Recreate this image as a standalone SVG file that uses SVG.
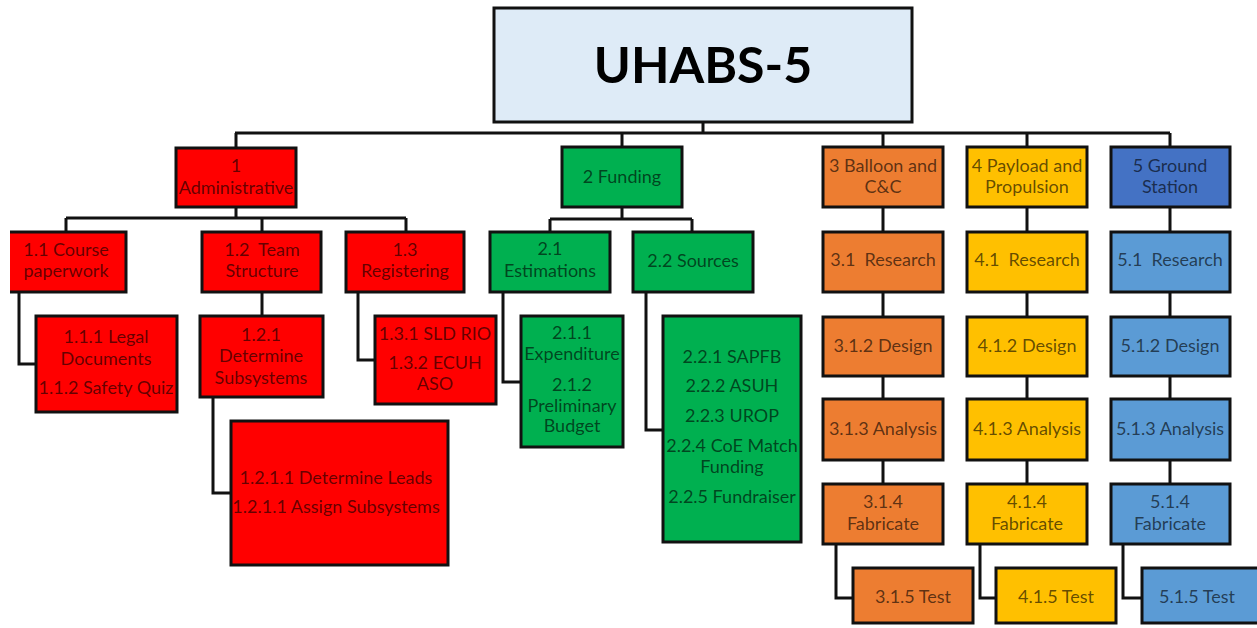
<svg xmlns="http://www.w3.org/2000/svg" width="1257" height="628" viewBox="0 0 1257 628">
  <style>
    .box { stroke: #111; stroke-width: 3; }
    .edge { fill: none; stroke: #111; stroke-width: 3; }
    .red { fill: #FF0000; }
    .green { fill: #00B050; }
    .orange { fill: #ED7D31; }
    .yellow { fill: #FFC000; }
    .navy { fill: #4472C4; }
    .sky { fill: #5B9BD5; }
    text { font-family: Lato, "Open Sans", "Liberation Sans", sans-serif; font-size: 18px; text-anchor: middle; fill: #000; fill-opacity: 0.62; }
    .title { font-size: 50px; font-weight: bold; fill-opacity: 1; }
  </style>

  <!-- connectors -->
  <g id="connectors" class="edge">
    <path d="M703,122 V133 M235,133 H1170 M236,133 V148 M622,133 V147 M883,133 V147 M1027,133 V147 M1170,133 V147"/>
    <path d="M236,207 V218 M66,218 H406 M66,218 V232 M262,218 V232 M406,218 V232"/>
    <path d="M19,292 V364 H36"/>
    <path d="M262,292 V316"/>
    <path d="M358,292 V360 H375"/>
    <path d="M213,397 V493 H231"/>
    <path d="M622,207 V219 M550,219 H692 M550,219 V232 M692,219 V232"/>
    <path d="M503,292 V382 H521"/>
    <path d="M646,292 V430 H663"/>
    <path d="M883,207 V232 M883,292 V317 M883,376 V399 M883,460 V484 M836,544 V598 H853"/>
    <path d="M1027,207 V232 M1027,292 V317 M1027,376 V399 M1027,460 V484 M980,544 V598 H996"/>
    <path d="M1170,207 V232 M1170,292 V317 M1170,376 V399 M1170,460 V484 M1123,544 V598 H1142"/>
  </g>

  <!-- root -->
  <g id="n-root">
    <rect class="box" x="494" y="8" width="418" height="114" fill="#DEEBF7"/>
    <text class="title" x="703" y="83">UHABS-5</text>
  </g>

  <!-- 1 Administrative branch -->
  <g id="n-1">
    <rect class="box red" x="176" y="148" width="120" height="59"/>
    <text x="236" y="172">1</text>
    <text x="236" y="194">Administrative</text>
  </g>
  <g id="n-1-1">
    <rect class="red" x="10" y="232" width="116" height="60"/>
    <path class="edge" d="M10,232 H126 V292 H10"/>
    <text x="66" y="256">1.1 Course</text>
    <text x="66" y="277">paperwork</text>
  </g>
  <g id="n-1-2">
    <rect class="box red" x="202" y="232" width="119" height="60"/>
    <text x="262" y="256" xml:space="preserve">1.2  Team</text>
    <text x="262" y="277">Structure</text>
  </g>
  <g id="n-1-3">
    <rect class="box red" x="346" y="232" width="118" height="60"/>
    <text x="405" y="256">1.3</text>
    <text x="405" y="277">Registering</text>
  </g>
  <g id="n-1-1-1">
    <rect class="box red" x="36" y="316" width="141" height="96"/>
    <text x="106" y="343">1.1.1 Legal</text>
    <text x="106" y="365">Documents</text>
    <text x="106" y="394">1.1.2 Safety Quiz</text>
  </g>
  <g id="n-1-2-1">
    <rect class="box red" x="200" y="316" width="123" height="81"/>
    <text x="261" y="341">1.2.1</text>
    <text x="261" y="362">Determine</text>
    <text x="261" y="384">Subsystems</text>
  </g>
  <g id="n-1-3-1">
    <rect class="box red" x="375" y="316" width="121" height="88"/>
    <text x="435" y="340">1.3.1 SLD RIO</text>
    <text x="435" y="369">1.3.2 ECUH</text>
    <text x="435" y="390">ASO</text>
  </g>
  <g id="n-1-2-1-1">
    <rect class="box red" x="231" y="421" width="217" height="144"/>
    <text x="336" y="484">1.2.1.1 Determine Leads</text>
    <text x="336" y="513">1.2.1.1 Assign Subsystems</text>
  </g>

  <!-- 2 Funding branch -->
  <g id="n-2">
    <rect class="box green" x="562" y="147" width="120" height="60"/>
    <text x="622" y="183">2 Funding</text>
  </g>
  <g id="n-2-1">
    <rect class="box green" x="490" y="232" width="120" height="60"/>
    <text x="550" y="255">2.1</text>
    <text x="550" y="277">Estimations</text>
  </g>
  <g id="n-2-2">
    <rect class="box green" x="633" y="232" width="120" height="60"/>
    <text x="693" y="267">2.2 Sources</text>
  </g>
  <g id="n-2-1-1">
    <rect class="box green" x="521" y="316" width="102" height="131"/>
    <text x="572" y="339">2.1.1</text>
    <text x="572" y="360">Expenditure</text>
    <text x="572" y="391">2.1.2</text>
    <text x="572" y="412">Preliminary</text>
    <text x="572" y="432">Budget</text>
  </g>
  <g id="n-2-2-1">
    <rect class="box green" x="663" y="316" width="138" height="226"/>
    <text x="732" y="363">2.2.1 SAPFB</text>
    <text x="732" y="392">2.2.2 ASUH</text>
    <text x="732" y="422">2.2.3 UROP</text>
    <text x="732" y="452">2.2.4 CoE Match</text>
    <text x="732" y="473">Funding</text>
    <text x="732" y="503">2.2.5 Fundraiser</text>
  </g>

  <!-- 3 Balloon and C&C branch -->
  <g id="n-3">
    <rect class="box orange" x="823" y="147" width="120" height="60"/>
    <text x="883" y="172">3 Balloon and</text>
    <text x="883" y="193">C&amp;C</text>
  </g>
  <g id="n-3-1">
    <rect class="box orange" x="823" y="232" width="120" height="60"/>
    <text x="883" y="266" xml:space="preserve">3.1  Research</text>
  </g>
  <g id="n-3-1-2">
    <rect class="box orange" x="823" y="317" width="120" height="59"/>
    <text x="883" y="352">3.1.2 Design</text>
  </g>
  <g id="n-3-1-3">
    <rect class="box orange" x="823" y="399" width="120" height="61"/>
    <text x="883" y="435">3.1.3 Analysis</text>
  </g>
  <g id="n-3-1-4">
    <rect class="box orange" x="823" y="484" width="120" height="60"/>
    <text x="883" y="508">3.1.4</text>
    <text x="883" y="530">Fabricate</text>
  </g>
  <g id="n-3-1-5">
    <rect class="box orange" x="853" y="568" width="120" height="55"/>
    <text x="913" y="603">3.1.5 Test</text>
  </g>

  <!-- 4 Payload and Propulsion branch -->
  <g id="n-4">
    <rect class="box yellow" x="967" y="147" width="120" height="60"/>
    <text x="1027" y="172">4 Payload and</text>
    <text x="1027" y="193">Propulsion</text>
  </g>
  <g id="n-4-1">
    <rect class="box yellow" x="967" y="232" width="120" height="60"/>
    <text x="1027" y="266" xml:space="preserve">4.1  Research</text>
  </g>
  <g id="n-4-1-2">
    <rect class="box yellow" x="967" y="317" width="120" height="59"/>
    <text x="1027" y="352">4.1.2 Design</text>
  </g>
  <g id="n-4-1-3">
    <rect class="box yellow" x="967" y="399" width="120" height="61"/>
    <text x="1027" y="435">4.1.3 Analysis</text>
  </g>
  <g id="n-4-1-4">
    <rect class="box yellow" x="967" y="484" width="120" height="60"/>
    <text x="1027" y="508">4.1.4</text>
    <text x="1027" y="530">Fabricate</text>
  </g>
  <g id="n-4-1-5">
    <rect class="box yellow" x="996" y="568" width="120" height="55"/>
    <text x="1056" y="603">4.1.5 Test</text>
  </g>

  <!-- 5 Ground Station branch -->
  <g id="n-5">
    <rect class="box navy" x="1111" y="147" width="119" height="60"/>
    <text x="1170" y="172">5 Ground</text>
    <text x="1170" y="193">Station</text>
  </g>
  <g id="n-5-1">
    <rect class="box sky" x="1111" y="232" width="119" height="60"/>
    <text x="1170" y="266" xml:space="preserve">5.1  Research</text>
  </g>
  <g id="n-5-1-2">
    <rect class="box sky" x="1111" y="317" width="119" height="59"/>
    <text x="1170" y="352">5.1.2 Design</text>
  </g>
  <g id="n-5-1-3">
    <rect class="box sky" x="1111" y="399" width="119" height="61"/>
    <text x="1170" y="435">5.1.3 Analysis</text>
  </g>
  <g id="n-5-1-4">
    <rect class="box sky" x="1111" y="484" width="119" height="60"/>
    <text x="1170" y="508">5.1.4</text>
    <text x="1170" y="530">Fabricate</text>
  </g>
  <g id="n-5-1-5">
    <rect class="sky" x="1142" y="568" width="115" height="55"/>
    <path class="edge" d="M1257,568 H1142 V623 H1257"/>
    <text x="1197" y="603">5.1.5 Test</text>
  </g>
</svg>
